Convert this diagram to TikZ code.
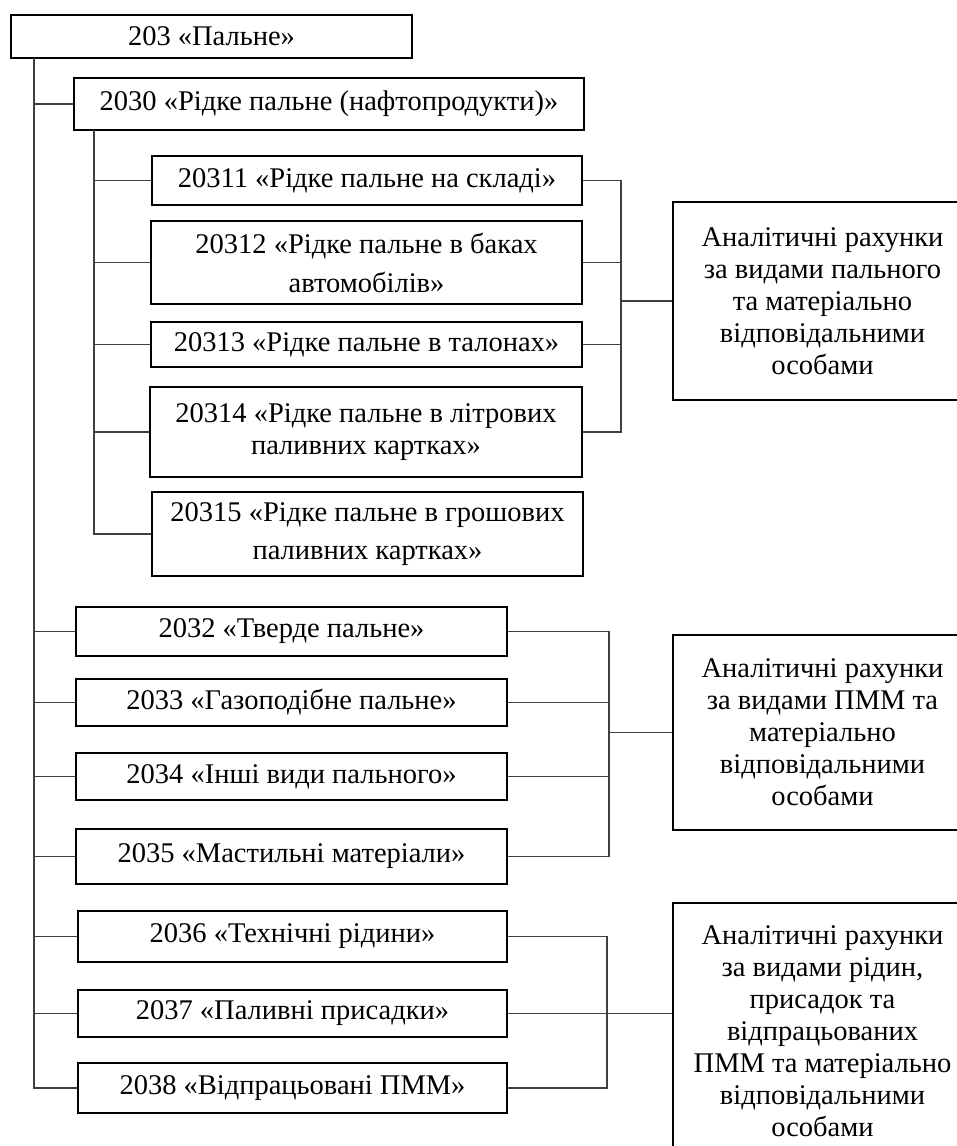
\documentclass[tikz,border=0pt]{standalone}
\usepackage{fontspec}
\setmainfont{Liberation Serif}
\usetikzlibrary{calc,positioning}

\begin{document}
\begin{tikzpicture}[x=1pt,y=-1pt,
  every node/.style={font=\fontsize{28.5}{32}\selectfont},
  acc/.style={draw,line width=2pt,rectangle,inner sep=0pt,align=center},
  anl/.style={draw,line width=2pt,rectangle,inner sep=0pt,align=center,minimum width=299pt},
  link/.style={line width=1.2pt,black!75}
  ]

  \clip (0,0) rectangle (957,1146);

  % main account
  \node [acc, minimum width=401pt, minimum height=43pt] at (211.5,36.5) (acc_203) {203 «Пальне»};
  \node [acc, minimum width=510pt, minimum height=52pt] at (329,104) (acc_2030) {2030 «Рідке пальне (нафтопродукти)»};

  % liquid fuel subaccounts
  \node [acc, minimum width=430pt, minimum height=49pt] at (367,180.5) (acc_20311) {20311 «Рідке пальне на складі»};
  \node [acc, minimum width=431pt, minimum height=83pt] at (366.5,262.5) (acc_20312) {20312 «Рідке пальне в баках\\[7pt]автомобілів»};
  \node [acc, minimum width=431pt, minimum height=45pt] at (366.5,344.5) (acc_20313) {20313 «Рідке пальне в талонах»};
  \node [acc, minimum width=432pt, minimum height=90pt] at (366,432) (acc_20314) {20314 «Рідке пальне в літрових\\паливних картках»};
  \node [acc, minimum width=431pt, minimum height=84pt] at (367.5,534) (acc_20315) {20315 «Рідке пальне в грошових\\[6pt]паливних картках»};

  % other accounts
  \node [acc, minimum width=431pt, minimum height=49pt] at (291.5,631.5) (acc_2032) {2032 «Тверде пальне»};
  \node [acc, minimum width=431pt, minimum height=47pt] at (291.5,702.5) (acc_2033) {2033 «Газоподібне пальне»};
  \node [acc, minimum width=431pt, minimum height=47pt] at (291.5,776.5) (acc_2034) {2034 «Інші види пального»};
  \node [acc, minimum width=431pt, minimum height=55pt] at (291.5,856.5) (acc_2035) {2035 «Мастильні матеріали»};
  \node [acc, minimum width=429pt, minimum height=51pt] at (292.5,936.5) (acc_2036) {2036 «Технічні рідини»};
  \node [acc, minimum width=429pt, minimum height=47pt] at (292.5,1013.5) (acc_2037) {2037 «Паливні присадки»};
  \node [acc, minimum width=429pt, minimum height=50pt] at (292.5,1088) (acc_2038) {2038 «Відпрацьовані ПММ»};

  % analytic accounts
  \node [anl, minimum height=198pt] at (822.5,301) (an_fuel) {Аналітичні рахунки\\за видами пального\\та матеріально\\відповідальними\\особами};
  \node [anl, minimum height=195pt] at (822.5,732.5) (an_pmm) {Аналітичні рахунки\\за видами ПММ та\\матеріально\\відповідальними\\особами};
  \node [anl, minimum height=257pt] at (822.5,1031.5) (an_liq) {Аналітичні рахунки\\за видами рідин,\\присадок та\\відпрацьованих\\ПММ та матеріально\\відповідальними\\особами};

  \coordinate (trunk) at (34,58);
  \coordinate (subtrunk) at (94,130);
  \coordinate (br_fuel) at (621,0);
  \coordinate (br_pmm) at (609,0);
  \coordinate (br_liq) at (607,0);

  % tree lines
  \draw [link] (trunk) |- (acc_2038.west);
  \foreach \n in {2030,2032,2033,2034,2035,2036,2037}
    \draw [link] (trunk |- acc_\n.west) -- (acc_\n.west);

  \draw [link] (subtrunk) |- (acc_20315.west);
  \foreach \n in {20311,20312,20313,20314}
    \draw [link] (subtrunk |- acc_\n.west) -- (acc_\n.west);

  % brackets to analytics
  \draw [link] (acc_20311.east) -| (br_fuel |- acc_20314.east) -- (acc_20314.east);
  \foreach \n in {20312,20313}
    \draw [link] (acc_\n.east) -- (br_fuel |- acc_\n.east);
  \draw [link] (br_fuel |- an_fuel.west) -- (an_fuel.west);

  \draw [link] (acc_2032.east) -| (br_pmm |- acc_2035.east) -- (acc_2035.east);
  \foreach \n in {2033,2034}
    \draw [link] (acc_\n.east) -- (br_pmm |- acc_\n.east);
  \draw [link] (br_pmm |- an_pmm.west) -- (an_pmm.west);

  \draw [link] (acc_2036.east) -| (br_liq |- acc_2038.east) -- (acc_2038.east);
  \draw [link] (acc_2037.east) -- (acc_2037.east -| an_liq.west);

\end{tikzpicture}
\end{document}
